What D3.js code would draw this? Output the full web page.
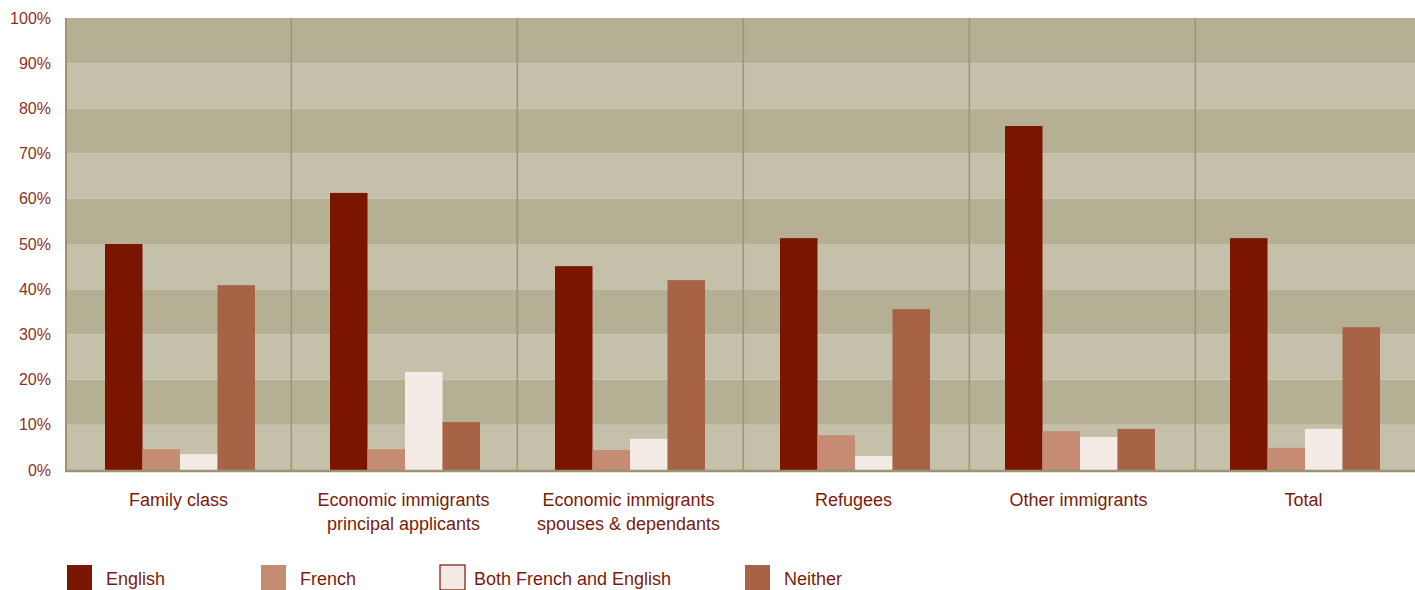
<!DOCTYPE html>
<html><head><meta charset="utf-8">
<script src="https://cdn.jsdelivr.net/npm/d3@7"></script>
<style>body{margin:0;background:#fff;} svg{display:block;}</style>
</head><body>
<svg id="chart" width="1415" height="590"></svg>
<script>
const categories = [["Family class"],["Economic immigrants","principal applicants"],["Economic immigrants","spouses & dependants"],["Refugees"],["Other immigrants"],["Total"]];
const seriesNames = ["English","French","Both French and English","Neither"];
const english = [50.0, 61.3, 45.1, 51.3, 76.1, 51.3];
const french  = [4.6, 4.6, 4.4, 7.7, 8.6, 4.9];
const both    = [3.5, 21.7, 6.9, 3.1, 7.3, 9.1];
const neither = [40.9, 10.6, 42.0, 35.6, 9.1, 31.6];
const yTicks = [0,10,20,30,40,50,60,70,80,90,100];
const colors = ["#7a1500","#c58b73","#f5ebe6","#a86347"];
const yTextColor = "#8b3322";
const xTextColor = "#7a1c0a";
const font = "Liberation Sans";

(function(){
const svg = d3.select("#chart");
const pL = 66, pR = 1416, pT = 18, pB = 470;
const catKeys = categories.map((c,i)=>i);
const x0 = d3.scaleBand().domain(catKeys).range([pL,pR]).padding(0);
const xDiv = d3.scaleBand().domain(catKeys).range([65.3,1421.3]).padding(0);
const x1 = d3.scaleBand().domain(seriesNames).range([0,x0.bandwidth()]).paddingInner(0).paddingOuter(1).align(0.52);
const y = d3.scaleLinear().domain([0,100]).range([pB,pT]);

const bandData = d3.range(0,100,10);
svg.append("g").selectAll("rect").data(bandData).join("rect")
  .attr("x",pL).attr("width",1415-pL)
  .attr("y",d=>y(d+10)).attr("height",d=>y(d)-y(d+10))
  .attr("fill",d=>(d/10)%2===0?"#c5c0aa":"#b5b093");

svg.append("g").selectAll("line").data(catKeys.slice(1)).join("line")
  .attr("x1",d=>xDiv(d)).attr("x2",d=>xDiv(d)).attr("y1",pT).attr("y2",pB)
  .attr("stroke","#9a9574").attr("stroke-width",1.5);

const series = [english,french,both,neither];
series.forEach((vals,si)=>{
  svg.append("g").selectAll("rect").data(vals).join("rect")
    .attr("x",(d,i)=>x0(i)+x1(seriesNames[si]))
    .attr("width",x1.bandwidth())
    .attr("y",d=>y(d)).attr("height",d=>y(0)-y(d))
    .attr("fill",colors[si]);
});

svg.append("line").attr("x1",pL).attr("x2",pL).attr("y1",pT).attr("y2",pB+1)
  .attr("stroke","#9a9470").attr("stroke-width",2);
svg.append("line").attr("x1",pL-1).attr("x2",1415).attr("y1",pB+1).attr("y2",pB+1)
  .attr("stroke","#9a9470").attr("stroke-width",2.5);

const yAxis = d3.axisLeft(y).tickValues(yTicks).tickFormat(d=>d+"%").tickSize(0).tickPadding(15);
const ya = svg.append("g").attr("transform",`translate(${pL},0)`).call(yAxis);
ya.select(".domain").remove();
ya.selectAll("text").attr("fill",yTextColor).style("font-family",font).style("font-size","16px");

const xl = svg.append("g").selectAll("text").data(categories).join("text")
  .attr("x",(d,i)=>x0(i)+x0.bandwidth()/2).attr("y",506)
  .attr("text-anchor","middle").attr("fill",xTextColor)
  .style("font-family",font).style("font-size","18px");
xl.each(function(d){
  const t=d3.select(this);
  d.forEach((line,k)=>t.append("tspan").attr("x",t.attr("x")).attr("dy",k===0?0:24).text(line));
});

const legX = [67,261,440,745];
const lg = svg.append("g").selectAll("g").data(seriesNames).join("g")
  .attr("transform",(d,i)=>`translate(${legX[i]},565)`);
lg.append("rect").attr("width",25).attr("height",25)
  .attr("fill",(d,i)=>colors[i])
  .attr("stroke",(d,i)=>i===2?"#7a1500":"none").attr("stroke-width",1.2);
lg.append("text").attr("x",(d,i)=>i===2?34:39).attr("y",20).text(d=>d)
  .attr("fill",xTextColor).style("font-family",font).style("font-size","18px");
})();
</script>
</body></html>
